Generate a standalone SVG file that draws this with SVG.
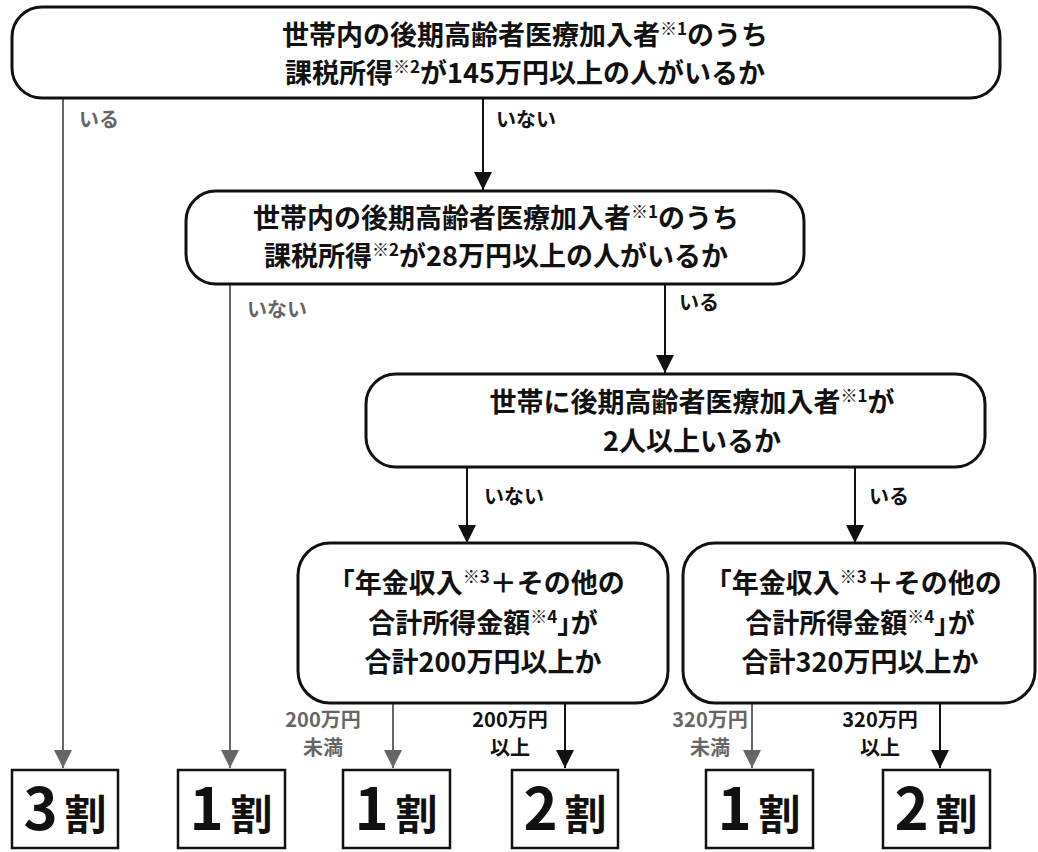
<svg xmlns="http://www.w3.org/2000/svg" width="1038" height="852" viewBox="0 0 1038 852">
<style>
text{font-family:"Noto Sans CJK JP","Noto Sans",sans-serif;font-weight:bold;}
.q{font-size:27px;fill:#111;text-anchor:middle;}
.sup{font-size:17px;}
.h{font-feature-settings:"halt";}
.box{fill:#fff;stroke:#111;stroke-width:3;}
.res{fill:#fff;stroke:#111;stroke-width:2.5;}
.big{font-size:58px;fill:#111;}
.wari{font-size:42px;fill:#111;}
.lb{font-size:20px;fill:#111;}
.lg{font-size:20px;fill:#666;}
.cb{stroke:#111;stroke-width:2;fill:none;}
.cg{stroke:#666;stroke-width:2;fill:none;}
</style>
<defs>
<marker id="ab" markerUnits="userSpaceOnUse" markerWidth="20" markerHeight="20" refX="18" refY="9" orient="auto"><path d="M0,0 L18,9 L0,18 Z" fill="#111"/></marker>
<marker id="ag" markerUnits="userSpaceOnUse" markerWidth="20" markerHeight="20" refX="18" refY="9" orient="auto"><path d="M0,0 L18,9 L0,18 Z" fill="#666"/></marker>
</defs>
<g id="connectors">
<path class="cg" d="M63,98 V768" marker-end="url(#ag)"/>
<path class="cb" d="M483,98 V190" marker-end="url(#ab)"/>
<path class="cg" d="M230,284 V768" marker-end="url(#ag)"/>
<path class="cb" d="M665,284 V373" marker-end="url(#ab)"/>
<path class="cb" d="M467,467 V543" marker-end="url(#ab)"/>
<path class="cb" d="M855,467 V543" marker-end="url(#ab)"/>
<path class="cg" d="M393,703 V768" marker-end="url(#ag)"/>
<path class="cb" d="M565,703 V768" marker-end="url(#ab)"/>
<path class="cg" d="M752,703 V768" marker-end="url(#ag)"/>
<path class="cb" d="M940,703 V768" marker-end="url(#ab)"/>
<text class="lg" x="79" y="127">いる</text>
<text class="lb" x="496" y="127">いない</text>
<text class="lg" x="247" y="317">いない</text>
<text class="lb" x="679" y="310">いる</text>
<text class="lb" x="484" y="504">いない</text>
<text class="lb" x="869" y="504">いる</text>
<text class="lg" x="323" y="727" text-anchor="middle">200万円</text>
<text class="lg" x="323" y="755" text-anchor="middle">未満</text>
<text class="lb" x="510" y="727" text-anchor="middle">200万円</text>
<text class="lb" x="510" y="755" text-anchor="middle">以上</text>
<text class="lg" x="710" y="727" text-anchor="middle">320万円</text>
<text class="lg" x="710" y="755" text-anchor="middle">未満</text>
<text class="lb" x="880" y="727" text-anchor="middle">320万円</text>
<text class="lb" x="880" y="755" text-anchor="middle">以上</text>
</g>
<g id="q1">
<rect class="box" x="12" y="7" width="988" height="91" rx="30"/>
<text class="q" x="525" y="45">世帯内の後期高齢者医療加入者<tspan class="sup" dy="-10">※1</tspan><tspan dy="10">のうち</tspan></text>
<text class="q" x="525" y="83">課税所得<tspan class="sup" dy="-10">※2</tspan><tspan dy="10">が145万円以上の人がいるか</tspan></text>
</g>
<g id="q2">
<rect class="box" x="186" y="191" width="618" height="93" rx="30"/>
<text class="q" x="496" y="228">世帯内の後期高齢者医療加入者<tspan class="sup" dy="-10">※1</tspan><tspan dy="10">のうち</tspan></text>
<text class="q" x="496" y="266">課税所得<tspan class="sup" dy="-10">※2</tspan><tspan dy="10">が28万円以上の人がいるか</tspan></text>
</g>
<g id="q3">
<rect class="box" x="366" y="374" width="619" height="93" rx="30"/>
<text class="q" x="692" y="412">世帯に後期高齢者医療加入者<tspan class="sup" dy="-10">※1</tspan><tspan dy="10">が</tspan></text>
<text class="q" x="692" y="451">2人以上いるか</text>
</g>
<g id="q4">
<rect class="box" x="298" y="543" width="370" height="160" rx="32"/>
<text class="q" x="483" y="593"><tspan class="h">「</tspan>年金収入<tspan class="sup" dy="-10">※3</tspan><tspan dy="10">＋その他の</tspan></text>
<text class="q" x="483" y="633">合計所得金額<tspan class="sup" dy="-10">※4</tspan><tspan class="h" dy="10">」</tspan>が</text>
<text class="q" x="483" y="672">合計200万円以上か</text>
</g>
<g id="q5">
<rect class="box" x="683" y="543" width="352" height="160" rx="32"/>
<text class="q" x="860" y="593"><tspan class="h">「</tspan>年金収入<tspan class="sup" dy="-10">※3</tspan><tspan dy="10">＋その他の</tspan></text>
<text class="q" x="860" y="633">合計所得金額<tspan class="sup" dy="-10">※4</tspan><tspan class="h" dy="10">」</tspan>が</text>
<text class="q" x="860" y="672">合計320万円以上か</text>
</g>
<g id="r1">
<rect class="res" x="12" y="770" width="106" height="78"/>
<text x="65" y="830" text-anchor="middle"><tspan class="big">3</tspan><tspan class="wari" dx="7">割</tspan></text>
</g>
<g id="r2">
<rect class="res" x="178" y="770" width="107" height="78"/>
<text x="231" y="830" text-anchor="middle"><tspan class="big">1</tspan><tspan class="wari" dx="7">割</tspan></text>
</g>
<g id="r3">
<rect class="res" x="343" y="770" width="107" height="78"/>
<text x="396" y="830" text-anchor="middle"><tspan class="big">1</tspan><tspan class="wari" dx="7">割</tspan></text>
</g>
<g id="r4">
<rect class="res" x="512" y="770" width="106" height="78"/>
<text x="565" y="830" text-anchor="middle"><tspan class="big">2</tspan><tspan class="wari" dx="7">割</tspan></text>
</g>
<g id="r5">
<rect class="res" x="706" y="770" width="107" height="78"/>
<text x="759" y="830" text-anchor="middle"><tspan class="big">1</tspan><tspan class="wari" dx="7">割</tspan></text>
</g>
<g id="r6">
<rect class="res" x="883" y="770" width="107" height="78"/>
<text x="936" y="830" text-anchor="middle"><tspan class="big">2</tspan><tspan class="wari" dx="7">割</tspan></text>
</g>
</svg>
